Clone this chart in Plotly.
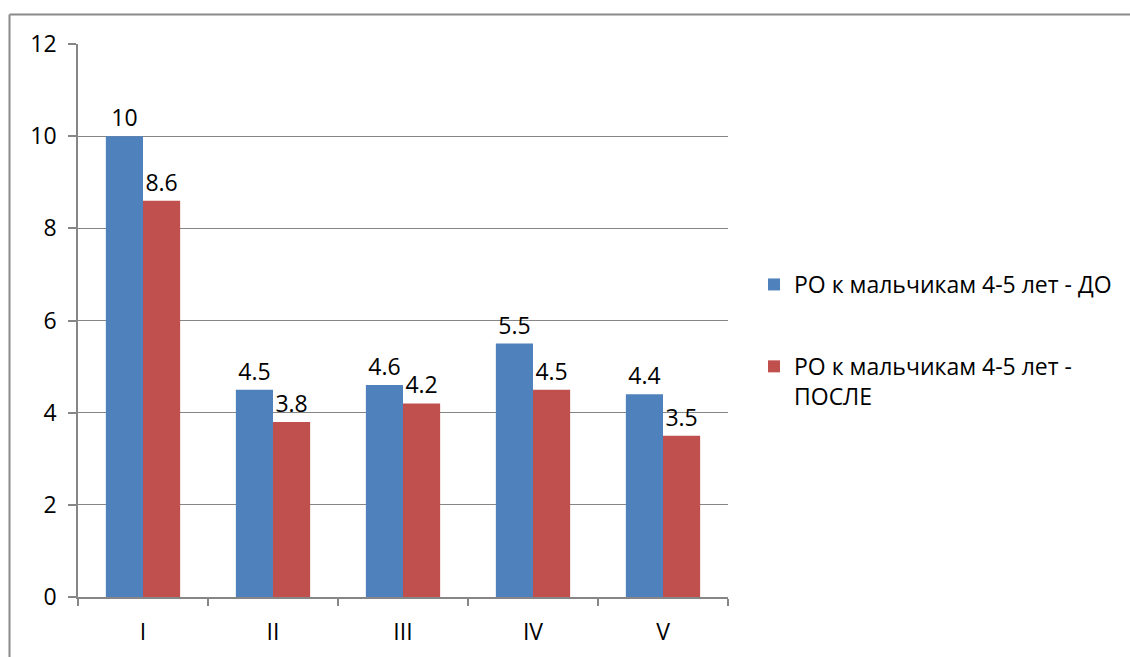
import plotly.graph_objects as go

categories = ["I", "II", "III", "IV", "V"]
before_vals = [10, 4.5, 4.6, 5.5, 4.4]
after_vals = [8.6, 3.8, 4.2, 4.5, 3.5]
name_before = "РО к мальчикам 4-5 лет - ДО"
name_after = "РО к мальчикам 4-5 лет -<br>ПОСЛЕ"
y_ticks = [0, 2, 4, 6, 8, 10, 12]

FONT = "Open Sans"
FS = 23
GRID = "#868686"
FRAME = "#8a8a8a"

fig = go.Figure()
fig.add_trace(go.Bar(
    x=categories, y=before_vals, name=name_before, legendgroup="a",
    marker=dict(color="#4F81BD", line=dict(width=0)),
    text=[f"{v:g}" for v in before_vals], textposition="outside",
    textfont=dict(family=FONT, size=FS, color="black"), cliponaxis=False,
))
fig.add_trace(go.Bar(
    x=categories, y=after_vals, name=name_after, legendgroup="b",
    marker=dict(color="#C0504D", line=dict(width=0)),
    text=[f"{v:g}" for v in after_vals], textposition="outside",
    textfont=dict(family=FONT, size=FS, color="black"), cliponaxis=False,
))

fx0 = (9.5 - 78) / 650
fy1 = (597.5 - 14.5) / 553.5

fig.update_layout(
    width=1130, height=657,
    margin=dict(l=78, r=402, t=44, b=60, pad=0),
    paper_bgcolor="white", plot_bgcolor="white",
    font=dict(family=FONT, size=FS, color="black"),
    barmode="group", bargap=0.4286, bargroupgap=0,
    showlegend=True,
    legend=dict(
        xref="container", yref="container",
        x=754 / 1130, xanchor="left", y=1 - 263 / 657, yanchor="top",
        font=dict(family=FONT, size=FS, color="black"),
        tracegroupgap=49, valign="top", bgcolor="rgba(0,0,0,0)",
        traceorder="grouped",
    ),
    xaxis=dict(
        type="category", showgrid=False, showline=True, linecolor=GRID, linewidth=1.5,
        ticks="outside", ticklen=7, tickcolor=GRID, tickwidth=1.5, tickson="boundaries",
        ticklabelstandoff=14, zeroline=False, automargin=False,
    ),
    yaxis=dict(
        range=[0, 12], tickvals=y_ticks, showgrid=True, gridcolor=GRID, gridwidth=1,
        showline=True, linecolor=GRID, linewidth=1.5, ticks="outside", ticklen=8,
        tickcolor=GRID, tickwidth=1.5, ticklabelstandoff=7, zeroline=False, automargin=False,
    ),
    shapes=[
        dict(type="line", xref="paper", yref="paper",
             x0=fx0, x1=(1135 - 78) / 650, y0=fy1, y1=fy1,
             line=dict(color=FRAME, width=2), layer="above"),
        dict(type="line", xref="paper", yref="paper",
             x0=fx0, x1=fx0, y0=fy1, y1=(597.5 - 665) / 553.5,
             line=dict(color=FRAME, width=2), layer="above"),
    ],
)

fig.write_html("out.html", config={"displayModeBar": False},
               post_script="document.body.style.margin='0';document.body.style.overflow='hidden';document.documentElement.style.overflow='hidden';")
